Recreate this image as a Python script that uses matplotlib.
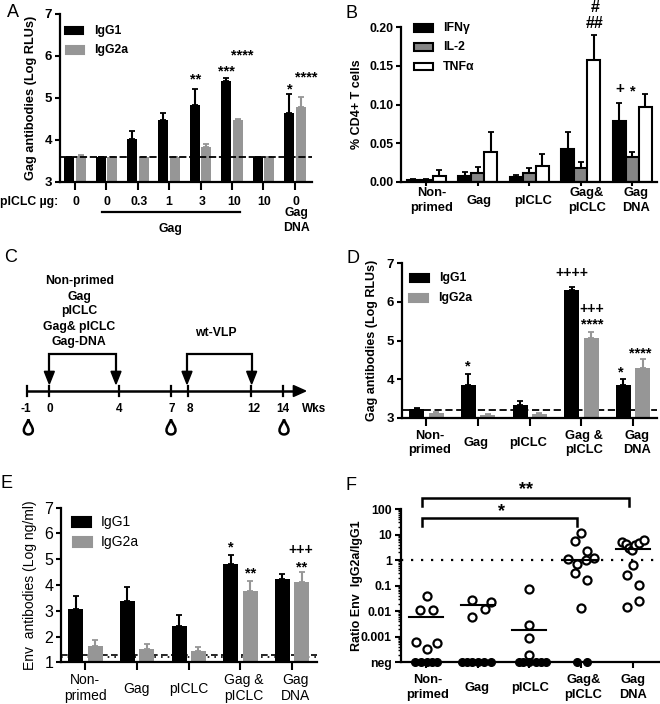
import matplotlib
matplotlib.use("Agg")
import matplotlib.pyplot as plt
import numpy as np
from matplotlib.patches import Rectangle, Polygon, PathPatch
from matplotlib.path import Path

plt.rcParams['font.family'] = ['Liberation Sans', 'DejaVu Sans']
plt.rcParams['font.weight'] = 'bold'
plt.rcParams['axes.labelweight'] = 'bold'

W, H = 660, 704
GRAY = '#969696'

# panel A
a_doses = ['0', '0', '0.3', '1', '3', '10', '10', '0']
a_igg1 = [3.58, 3.58, 4.02, 4.47, 4.83, 5.40, 3.60, 4.65]
a_igg1_top = [3.60, 3.60, 4.20, 4.65, 5.20, 5.48, 3.60, 5.08]
a_igg2a = [3.62, 3.60, 3.60, 3.60, 3.82, 4.48, 3.60, 4.77]
a_igg2a_top = [3.64, 3.60, 3.60, 3.60, 3.90, 4.50, 3.60, 5.02]
a_cutoff = 3.6

# panel B
b_ifn = [0.002, 0.007, 0.006, 0.042, 0.079]
b_ifn_top = [0.004, 0.012, 0.009, 0.064, 0.102]
b_il2 = [0.002, 0.011, 0.011, 0.018, 0.032]
b_il2_top = [0.004, 0.019, 0.018, 0.026, 0.038]
b_tnf = [0.007, 0.038, 0.020, 0.157, 0.097]
b_tnf_top = [0.015, 0.065, 0.036, 0.190, 0.113]

# panel C
c_weeks = ['-1', '0', '4', '7', '8', '12', '14']
c_groups = ['Non-primed', 'Gag', 'pICLC', 'Gag& pICLC', 'Gag-DNA']

# panel D
d_igg1 = [3.22, 3.85, 3.33, 6.32, 3.85]
d_igg1_top = [3.25, 4.13, 3.42, 6.39, 4.00]
d_igg2a = [3.12, 3.07, 3.10, 5.07, 4.30]
d_igg2a_top = [3.16, 3.09, 3.12, 5.21, 4.52]
d_cutoff = 3.2

# panel E
e_igg1 = [3.08, 3.38, 2.40, 4.82, 4.22]
e_igg1_top = [3.58, 3.92, 2.82, 5.18, 4.42]
e_igg2a = [1.62, 1.52, 1.42, 3.78, 4.13]
e_igg2a_top = [1.86, 1.70, 1.58, 4.15, 4.52]
e_cutoff_dash = 1.3
e_cutoff_dot = 1.2

# panel F, ratio values, 0.0001 stands for "neg"
f_nonprimed = [0.041, 0.011, 0.011, 0.00065, 0.00056, 0.00034]
f_gag = [0.0275, 0.022, 0.012, 0.006]
f_piclc = [0.072, 0.0028, 0.00087, 0.00019]
f_gagpiclc = [12, 5.5, 2.2, 1.1, 1.2, 0.97, 0.68, 0.31, 0.16, 0.013]
f_gagdna = [5.2, 4.2, 2.9, 2.5, 3.8, 4.6, 6.2, 0.66, 0.25, 0.107, 0.0245, 0.0148]
f_neg_counts = [5, 6, 6, 2, 0]
f_means = [0.006, 0.017, 0.00186, 1.0, 2.6]
f_ticks = ['neg', '0.001', '0.01', '0.1', '1', '10', '100']

# swarm offsets for panel F, in px away from the group centre
f_dx = [[1, -6, 7, -10, 11, 1],
        [-6, 13, 7, -6],
        [0, 0, 0, 0],
        [0, -6, 6, -13, 13, 5, -4, -6, 6, 0],
        [-11, -7, -4, -1, 2, 6, 11, 0, -6, 6, 6, -6]]
f_neg_dx = [[-11, -5, 1, 6, 11],
            [-16, -11, -6, 0, 6, 13],
            [-10, -6, 0, 7, 12, 17],
            [-4, 6],
            []]

fig = plt.figure(figsize=(W / 100, H / 100), dpi=100)


def make_axes(left, right, top, bottom):
    ax = fig.add_axes([left / W, 1 - bottom / H, (right - left) / W, (bottom - top) / H])
    ax.spines['top'].set_visible(False)
    ax.spines['right'].set_visible(False)
    ax.spines['left'].set_linewidth(1.6)
    ax.spines['bottom'].set_linewidth(1.6)
    ax.patch.set_alpha(0)
    ax.tick_params(axis='y', length=3.5, width=1.5, pad=2)
    ax.tick_params(axis='x', length=5.5, width=1.5, labelbottom=False)
    return ax


def pair_bars(ax, v1, t1, v2, t2, left, right, first, step, off, width, c2=GRAY):
    # x axis runs in pixels of the page so groups land where they should
    ax.set_xlim(left, right)
    x = first + step * np.arange(len(v1))
    for xx, v, t, c in ((x - off, v1, t1, 'black'), (x + off, v2, t2, c2)):
        ax.bar(xx, v, width=width, color=c, bottom=0)
        ax.errorbar(xx, v, yerr=[np.zeros(len(v)), np.array(t) - np.array(v)], fmt='none',
                    ecolor=c, elinewidth=1.5, capsize=2.2, capthick=1.3)
    ax.set_xticks(x)


def ylabel(ax, s, xpx, left, right, size, weight='bold'):
    ax.set_ylabel(s, fontsize=size, va='center', weight=weight)
    ax.yaxis.set_label_coords((xpx - left) / (right - left), 0.5)


# everything that is not data (letters, stars, panel C) goes on a page wide axes in pixels
page = fig.add_axes([0, 0, 1, 1], zorder=5)
page.set_xlim(0, W)
page.set_ylim(H, 0)
page.axis('off')


def note(x0, y0, zx, zy, s, size=9.3, ha='center', weight='bold'):
    page.text(x0 + zx / 3, y0 + zy / 3, s, fontsize=size, ha=ha, va='center', weight=weight)


def stars(x0, y0, items, size=10.5):
    for zx, zy, s in items:
        page.text(x0 + zx / 3, y0 + zy / 3 + 3, s, fontsize=size, ha='center', va='center', weight='bold')


def legend_box(x0, y0, zx0, zx1, zy0, zy1, face, edge=None):
    page.add_patch(Rectangle((x0 + zx0 / 3, y0 + zy0 / 3), (zx1 - zx0) / 3, (zy1 - zy0) / 3,
                             facecolor=face, edgecolor=edge or face, lw=1.5))


def group_labels(x0, y0, items, y1, y2, ymid, size=9.3, weight='bold'):
    for zx, s in items:
        if '\n' in s:
            top, bottom = s.split('\n')
            note(x0, y0, zx, y1, top, size, weight=weight)
            note(x0, y0, zx, y2, bottom, size, weight=weight)
        else:
            note(x0, y0, zx, ymid, s, size, weight=weight)


# A
L, R, T, B = 60, 312, 14, 181.7
ax = make_axes(L, R, T, B)
pair_bars(ax, a_igg1, a_igg1_top, a_igg2a, a_igg2a_top, L, R, 75, 31.4, 5.8, 10)
ax.set_ylim(3, 7)
ax.set_yticks(range(3, 8))
ax.tick_params(axis='y', labelsize=9.5)
ax.axhline(a_cutoff, color='black', lw=1.3, ls=(0, (4, 1.5)))
ylabel(ax, 'Gag antibodies (Log RLUs)', 31, L, R, 9.2)
note(0, 0, 38, 38, 'A', 13, weight='normal')
legend_box(0, 0, 195, 250, 80, 102, 'black')
legend_box(0, 0, 197, 253, 139, 161, GRAY)
note(0, 0, 282, 92, 'IgG1', 8.8, ha='left')
note(0, 0, 282, 150, 'IgG2a', 8.8, ha='left')
note(0, 0, 175, 607, 'pICLC µg:', 8.8, ha='right')
for zx, s in zip([228, 322, 417, 507, 606, 702, 792, 888], a_doses):
    note(0, 0, zx, 607, s, 8.8)
page.plot([305 / 3, 720 / 3], [636 / 3, 636 / 3], color='black', lw=1.6)
note(0, 0, 512, 686, 'Gag', 8.8)
note(0, 0, 890, 640, 'Gag', 8.8)
note(0, 0, 890, 683, 'DNA', 8.8)
stars(0, 0, [(587, 228, '**'), (678, 206, '***'), (727, 156, '****'), (869, 258, '*'), (918, 222, '****')])

# B
L, R, T, B = 401, 657, 27.3, 181.7
ax = make_axes(L, R, T, B)
ax.set_xlim(L, R)
x = 426 + 51.6 * np.arange(5)
for off, v, t, c in ((-13, b_ifn, b_ifn_top, 'black'), (0, b_il2, b_il2_top, '#858585'), (13, b_tnf, b_tnf_top, 'white')):
    ax.errorbar(x + off, v, yerr=[np.zeros(5), np.array(t) - np.array(v)], fmt='none',
                ecolor='black', elinewidth=1.5, capsize=2.2, capthick=1.3, zorder=1)
    ax.bar(x + off, v, width=13, color=c, edgecolor='black', lw=1.5, zorder=2)
ax.set_xticks(x)
ax.tick_params(axis='x', length=3)
ax.set_ylim(0, 0.20)
ax.set_yticks([0, 0.05, 0.10, 0.15, 0.20])
ax.set_yticklabels(['0.00', '0.05', '0.10', '0.15', '0.20'])
ax.tick_params(axis='y', labelsize=8.8)
ylabel(ax, '% CD4+ T cells', 357, L, R, 9)
note(340, 0, 35, 40, 'B', 13, weight='normal')
legend_box(340, 0, 222, 278, 72, 96, 'black', 'black')
legend_box(340, 0, 222, 278, 130, 152, '#858585', 'black')
legend_box(340, 0, 222, 278, 189, 211, 'white', 'black')
note(340, 0, 308, 85, 'IFNγ', 8.8, ha='left')
note(340, 0, 308, 142, 'IL-2', 8.8, ha='left')
note(340, 0, 308, 200, 'TNFα', 8.8, ha='left')
group_labels(340, 0, [(275, 'Non-\nprimed'), (418, 'Gag'), (580, 'pICLC'), (740, 'Gag&\npICLC'), (887, 'Gag\nDNA')], 580, 623, 603)
note(340, 0, 765, 22, '#', 11.5)
note(340, 0, 765, 70, '##', 11.5)
note(340, 0, 840, 268, '+', 11)
stars(340, 0, [(878, 265, '*')])

# C
page.plot([80 / 3, 890 / 3], [391, 391], color='black', lw=1.8)
page.add_patch(Polygon([[880 / 3, 385.5], [917 / 3, 391], [880 / 3, 396.5]], color='black'))
for zx in [80, 147, 356, 512, 565, 753, 849]:
    page.plot([zx / 3, zx / 3], [386, 396], color='black', lw=1.6)
for zx, s in zip([76, 150, 358, 514, 569, 760, 849], c_weeks):
    note(0, 240, zx, 508, s, 8.5)
note(0, 240, 941, 508, 'Wks', 8.5)
for zy, s in zip([123, 170, 214, 260, 306], c_groups):
    note(0, 240, 238, zy, s, 8.8)
note(0, 240, 646, 278, 'wt-VLP', 8.8)
for zx0, zx1 in ((148, 348), (561, 755)):
    page.plot([zx0 / 3, zx0 / 3, zx1 / 3, zx1 / 3], [240 + 395 / 3, 240 + 342 / 3, 240 + 342 / 3, 240 + 395 / 3],
              color='black', lw=1.6, solid_joinstyle='miter')
    for zx in (zx0, zx1):
        page.add_patch(Polygon([[(zx - 15) / 3, 240 + 394 / 3], [(zx + 15) / 3, 240 + 394 / 3], [zx / 3, 240 + 432 / 3]],
                               color='black'))
note(0, 240, 32, 52, 'C', 13, weight='normal')
for zx in (85, 513, 852):
    px, py = zx / 3, 240 + 565 / 3
    drop = Path([(px, py - 9), (px + 1.5, py - 4), (px + 4.5, py - 2), (px + 4.5, py + 2),
                 (px + 4.5, py + 7.5), (px - 4.5, py + 7.5), (px - 4.5, py + 2),
                 (px - 4.5, py - 2), (px - 1.5, py - 4), (px, py - 9)],
                [Path.MOVETO, Path.CURVE4, Path.CURVE4, Path.CURVE4,
                 Path.CURVE4, Path.CURVE4, Path.CURVE4,
                 Path.CURVE4, Path.CURVE4, Path.CURVE4])
    page.add_patch(PathPatch(drop, facecolor='white', edgecolor='black', lw=1.8))

# D
L, R, T, B = 401.7, 657, 263.3, 417.7
ax = make_axes(L, R, T, B)
pair_bars(ax, d_igg1, d_igg1_top, d_igg2a, d_igg2a_top, L, R, 426.3, 51.7, 9.7, 15)
ax.set_ylim(3, 7)
ax.set_yticks(range(3, 8))
ax.tick_params(axis='y', labelsize=9.5)
ax.axhline(d_cutoff, color='black', lw=1.3, ls=(0, (4, 2)), zorder=0.5)
ylabel(ax, 'Gag antibodies (Log RLUs)', 372, L, R, 9)
note(340, 240, 38, 55, 'D', 13, weight='normal')
legend_box(340, 240, 210, 268, 103, 127, 'black')
legend_box(340, 240, 207, 265, 163, 187, GRAY)
note(340, 240, 296, 115, 'IgG1', 8.8, ha='left')
note(340, 240, 293, 175, 'IgG2a', 8.8, ha='left')
group_labels(340, 240, [(270, 'Non-\nprimed'), (407, 'Gag'), (563, 'pICLC'), (733, 'Gag &\npICLC'), (890, 'Gag\nDNA')], 587, 630, 608)
note(340, 240, 697, 100, '++++', 10)
note(340, 240, 756, 207, '+++', 10)
stars(340, 240, [(756, 245, '****'), (382, 371, '*'), (842, 389, '*'), (900, 330, '****')])

# E
L, R, T, B = 61, 317, 507.7, 662.3
ax = make_axes(L, R, T, B)
pair_bars(ax, e_igg1, e_igg1_top, e_igg2a, e_igg2a_top, L, R, 85.3, 51.7, 9.7, 15)
ax.set_ylim(1, 7)
ax.set_yticks(range(1, 8))
ax.set_yticklabels([str(v) for v in range(1, 8)], weight='normal', fontsize=11.5)
ax.axhline(e_cutoff_dash, color='black', lw=1.2, ls=(0, (4, 2)), zorder=0.5)
ax.axhline(e_cutoff_dot, color='black', lw=1.2, ls=(0, (1, 3)), zorder=0.5)
ylabel(ax, 'Env  antibodies (Log ng/ml)', 30, L, R, 10, weight='normal')
note(0, 460, 20, 72, 'E', 13, weight='normal')
legend_box(0, 460, 215, 272, 171, 201, 'black')
legend_box(0, 460, 218, 275, 231, 261, GRAY)
note(0, 460, 302, 186, 'IgG1', 10, ha='left', weight='normal')
note(0, 460, 302, 246, 'IgG2a', 10, ha='left', weight='normal')
group_labels(0, 460, [(255, 'Non-\nprimed'), (410, 'Gag'), (565, 'pICLC'), (732, 'Gag &\npICLC'), (885, 'Gag\nDNA')],
             660, 708, 686, size=10, weight='normal')
note(0, 460, 903, 270, '+++', 10)
stars(0, 460, [(691, 252, '*'), (751, 330, '**'), (905, 313, '**')])

# F
L, R, T, B = 401, 660, 509, 662.3
ax = make_axes(L, R, T, B)
ax.set_xlim(L, R)
ax.set_yscale('log')
ax.set_ylim(1e-4, 100)
ax.set_yticks([1e-4, 1e-3, 1e-2, 1e-1, 1, 10, 100])
ax.set_yticklabels(f_ticks)
ax.minorticks_on()
ax.tick_params(axis='y', which='major', labelsize=8.8, length=4.5, width=1.5)
ax.tick_params(axis='y', which='minor', length=2.5, width=1)
ax.tick_params(axis='x', which='minor', bottom=False)
x = 426 + 51.7 * np.arange(5)
ax.set_xticks(x)
ax.tick_params(axis='x', length=4)
ax.axhline(1, color='black', lw=1.6, ls=(0, (1, 3.5)), zorder=1)
series = [f_nonprimed, f_gag, f_piclc, f_gagpiclc, f_gagdna]
for i, vals in enumerate(series):
    ax.plot(x[i] + np.array(f_dx[i]), vals, 'o', mfc='white', mec='black', ms=5.8, mew=1.6, zorder=3, clip_on=False)
    if f_neg_counts[i]:
        ax.plot(x[i] + np.array(f_neg_dx[i]), [1e-4] * f_neg_counts[i], 'o', color='black', ms=5.5,
                zorder=3, clip_on=False)
    ax.plot([x[i] - 17, x[i] + 17], [f_means[i]] * 2, color='black', lw=1.5, zorder=4)
ylabel(ax, 'Ratio Env  IgG2a/IgG1', 357, L, R, 9)
note(340, 460, 32, 75, 'F', 13, weight='normal')
group_labels(340, 460, [(263, 'Non-\nprimed'), (411, 'Gag'), (570, 'pICLC'), (730, 'Gag&\npICLC'), (878, 'Gag\nDNA')], 660, 705, 683)
for zx1, zy_top, zy_low in ((868, 115, 138), (711, 175, 197)):
    page.plot([340 + 247 / 3, 340 + 247 / 3, 340 + zx1 / 3, 340 + zx1 / 3],
              [460 + zy_low / 3, 460 + zy_top / 3, 460 + zy_top / 3, 460 + zy_low / 3],
              color='black', lw=1.8, solid_joinstyle='miter')
stars(340, 460, [(557, 80, '**'), (483, 145, '*')], size=13)

fig.savefig('out.png', dpi=100)
